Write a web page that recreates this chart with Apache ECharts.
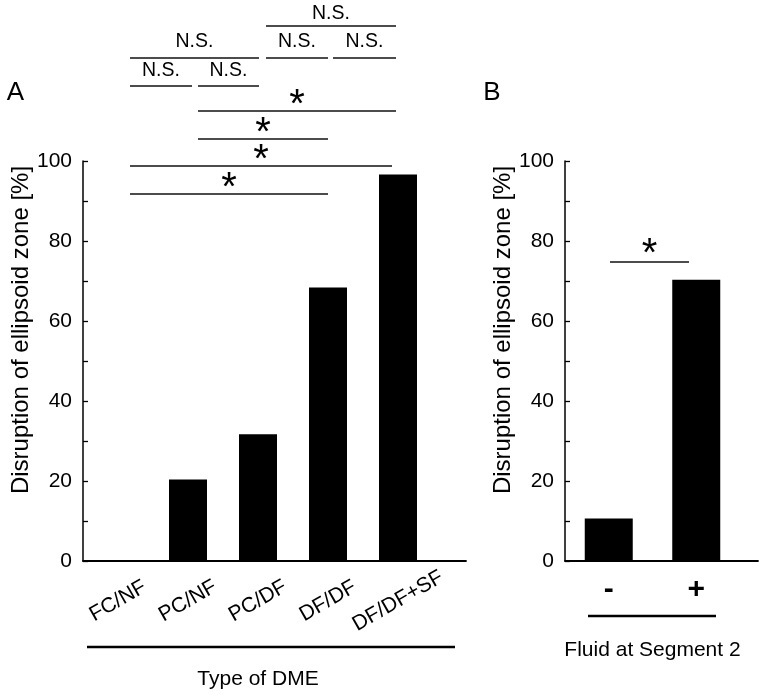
<!DOCTYPE html>
<html>
<head>
<meta charset="utf-8">
<script src="https://cdn.jsdelivr.net/npm/echarts@6/dist/echarts.min.js"></script>
<style>
html,body{margin:0;padding:0;background:#fff;}
#chart{width:767px;height:700px;}
</style>
</head>
<body>
<div id="chart"></div>
<script>
// ---- data ----
const categoriesA = ['FC/NF', 'PC/NF', 'PC/DF', 'DF/DF', 'DF/DF+SF'];
const valuesA = [0, 20.4, 31.7, 68.4, 96.6];
const categoriesB = ['-', '+'];
const valuesB = [10.6, 70.3];
const yMin = 0, yMax = 100, yTickStep = 10, yLabelStep = 20;
const yTitle = 'Disruption of ellipsoid zone [%]';
const xTitleA = 'Type of DME';
const xTitleB = 'Fluid at Segment 2';
// significance annotations: pixel layout
const bracketsLayout = [
  {x1: 266, x2: 396, y: 26, label: 'N.S.', ly: 13.5},
  {x1: 130, x2: 259, y: 58, label: 'N.S.', ly: 42},
  {x1: 266, x2: 328, y: 58, label: 'N.S.', ly: 42},
  {x1: 333, x2: 396, y: 58, label: 'N.S.', ly: 42},
  {x1: 130, x2: 192, y: 86, label: 'N.S.', ly: 71},
  {x1: 198, x2: 259, y: 86, label: 'N.S.', ly: 71},
  {x1: 198, x2: 396, y: 111, label: '*', ly: 98},
  {x1: 198, x2: 328, y: 139, label: '*', ly: 126},
  {x1: 130, x2: 392, y: 166, label: '*', ly: 153},
  {x1: 130, x2: 328, y: 194, label: '*', ly: 181},
  {x1: 610, x2: 689, y: 262, label: '*', ly: 247}
];

const FONT = '"Liberation Sans", Arial, Helvetica, sans-serif';
const chart = echarts.init(document.getElementById('chart'), null, {renderer: 'canvas'});

function yAxisDef(gridIndex, show) {
  return {
    type: 'value', gridIndex: gridIndex, min: yMin, max: yMax, interval: yTickStep,
    show: show,
    name: show ? yTitle : '',
    nameLocation: 'middle', nameGap: 50,
    nameTextStyle: {fontFamily: FONT, fontSize: 24, color: '#000', padding: [0, 0, 0, 62]},
    axisLine: {show: true, lineStyle: {color: '#000', width: 1.5}},
    axisTick: {show: true, inside: true, length: 5, lineStyle: {color: '#000', width: 1.3}},
    minorTick: {show: false},
    splitLine: {show: false},
    axisLabel: {fontFamily: FONT, fontSize: 21, color: '#000', margin: 11,
      formatter: v => (v % yLabelStep === 0 ? String(v) : '')}
  };
}

const graphics = [];
bracketsLayout.forEach(b => {
  graphics.push({type: 'line', shape: {x1: b.x1, y1: b.y, x2: b.x2, y2: b.y},
    style: {stroke: '#111', lineWidth: 1.3}, silent: true});
  const isStar = b.label === '*';
  const fs = isStar ? 40 : 19.5;
  graphics.push({type: 'text', x: (b.x1 + b.x2) / 2, y: isStar ? b.ly + 0.2 * fs : b.ly,
    style: {text: b.label, font: fs + 'px ' + FONT, fill: '#000', align: 'center', verticalAlign: 'middle'},
    silent: true});
});
graphics.push({type: 'text', x: 15.5, y: 93, style: {text: 'A', font: '26px ' + FONT, fill: '#000', align: 'center', verticalAlign: 'middle'}});
graphics.push({type: 'text', x: 492, y: 93, style: {text: 'B', font: '26px ' + FONT, fill: '#000', align: 'center', verticalAlign: 'middle'}});
graphics.push({type: 'line', shape: {x1: 87, y1: 647, x2: 455, y2: 647}, style: {stroke: '#000', lineWidth: 2.5}});
graphics.push({type: 'line', shape: {x1: 588, y1: 616, x2: 716, y2: 616}, style: {stroke: '#000', lineWidth: 2.5}});

const option = {
  animation: false,
  backgroundColor: '#fff',
  grid: [
    {left: 83, top: 161, width: 350, height: 400},
    {left: 83, top: 161, width: 383, height: 400},
    {left: 565, top: 161, width: 175, height: 400},
    {left: 565, top: 161, width: 193, height: 400}
  ],
  xAxis: [
    {type: 'category', gridIndex: 0, data: categoriesA,
     name: xTitleA, nameLocation: 'middle', nameGap: 108,
     nameTextStyle: {fontFamily: FONT, fontSize: 21, color: '#000'},
     axisLine: {show: false}, axisTick: {show: false},
     axisLabel: {interval: 0, rotate: 30, align: 'center', verticalAlign: 'middle', margin: 40,
       fontFamily: FONT, fontSize: 21, color: '#000', hideOverlap: false}},
    {type: 'value', gridIndex: 1, min: 0, max: 1, axisLine: {show: true, onZero: false, lineStyle: {color: '#000', width: 1.8}},
     axisTick: {show: false}, axisLabel: {show: false}, splitLine: {show: false}},
    {type: 'category', gridIndex: 2, data: categoriesB,
     name: xTitleB, nameLocation: 'middle', nameGap: 79,
     nameTextStyle: {fontFamily: FONT, fontSize: 21, color: '#000'},
     axisLine: {show: false}, axisTick: {show: false},
     axisLabel: {interval: 0, verticalAlign: 'middle', margin: 29,
       fontFamily: FONT, fontSize: 30, fontWeight: 'bold', color: '#000'}},
    {type: 'value', gridIndex: 3, min: 0, max: 1, axisLine: {show: true, onZero: false, lineStyle: {color: '#000', width: 1.8}},
     axisTick: {show: false}, axisLabel: {show: false}, splitLine: {show: false}}
  ],
  yAxis: [yAxisDef(0, true), yAxisDef(1, false), yAxisDef(2, true), yAxisDef(3, false)],
  series: [
    {type: 'bar', xAxisIndex: 0, yAxisIndex: 0, data: valuesA, barWidth: 38,
     itemStyle: {color: '#000'}, silent: true},
    {type: 'bar', xAxisIndex: 2, yAxisIndex: 2, data: valuesB, barWidth: 48,
     itemStyle: {color: '#000'}, silent: true}
  ],
  graphic: graphics
};
chart.setOption(option);
</script>
</body>
</html>
